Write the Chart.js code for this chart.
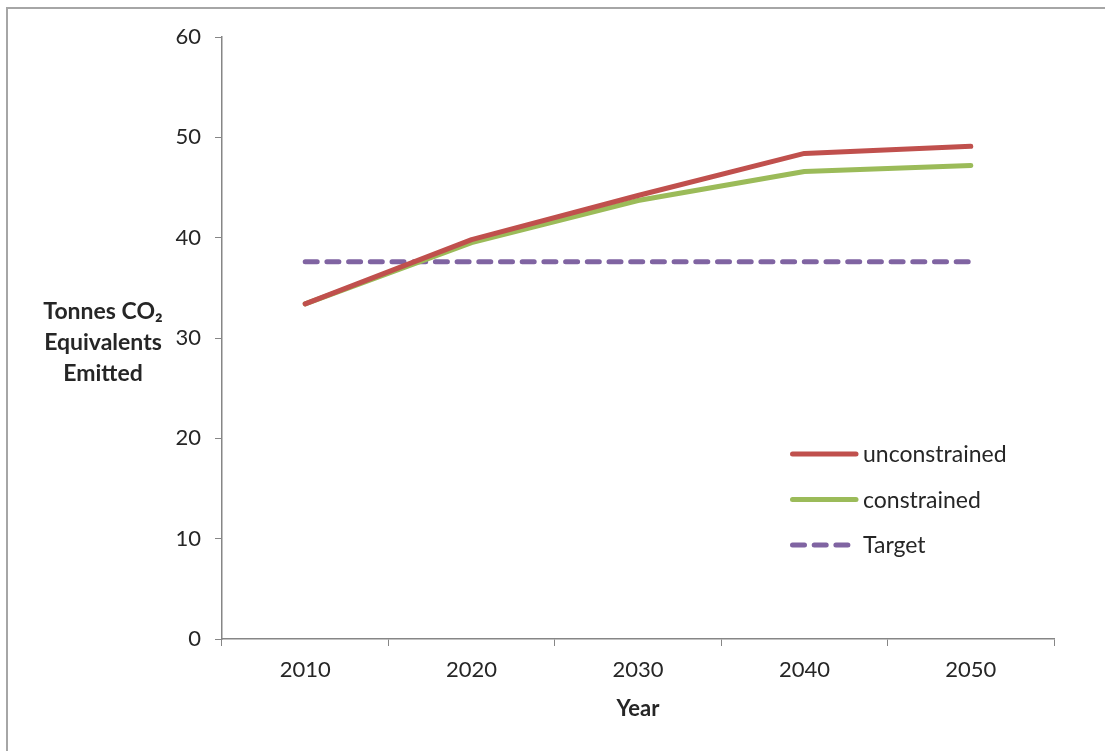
<!DOCTYPE html>
<html>
<head>
<meta charset="utf-8">
<script src="https://cdn.jsdelivr.net/npm/chart.js@4.4.0/dist/chart.umd.min.js"></script>
<style>
    body { margin: 0; background: #fff; }
    canvas { display: block; }
</style>
</head>
<body>
<canvas id="emissions" width="1105" height="751"></canvas>
<script>
const years = ['2010', '2020', '2030', '2040', '2050'];
const unconstrained = [33.4, 39.8, 44.2, 48.4, 49.1];
const constrained = [33.4, 39.5, 43.7, 46.6, 47.2];
const target = [37.6, 37.6, 37.6, 37.6, 37.6];
const yTitle = ['Tonnes CO\u2082', 'Equivalents', 'Emitted'];
const xTitle = 'Year';

const textColor = '#262626';
const axisColor = '#868686';
const fontName = 'Lato, "Open Sans", sans-serif';

// frame, axis titles and the legend drawn inside the plot
const extras = {
    id: 'extras',
    beforeDraw(chart) {
        const c = chart.ctx;
        c.save();
        c.strokeStyle = '#a6a6a6';
        c.lineWidth = 2;
        c.beginPath();
        c.moveTo(7, 751);
        c.lineTo(7, 8);
        c.lineTo(1105, 8);
        c.stroke();
        c.restore();
    },
    afterDraw(chart) {
        const c = chart.ctx;
        const area = chart.chartArea;
        c.save();
        c.fillStyle = textColor;
        c.textAlign = 'center';
        c.textBaseline = 'middle';
        c.font = 'bold 23px ' + fontName;
        yTitle.forEach((line, i) => {
            c.fillText(line, 103, 312 + i * 31);
        });
        c.font = 'bold 22px ' + fontName;
        c.fillText(xTitle, (area.left + area.right) / 2, 709);

        // legend
        c.textAlign = 'left';
        c.font = '23px ' + fontName;
        chart.data.datasets.forEach((ds, i) => {
            const y = 454 + i * 45.5;
            c.strokeStyle = ds.borderColor;
            c.lineWidth = ds.borderWidth;
            c.lineCap = 'round';
            c.setLineDash(ds.borderDash || []);
            c.beginPath();
            c.moveTo(792.5, y);
            c.lineTo(ds.borderDash ? 850 : 856, y);
            c.stroke();
            c.setLineDash([]);
            c.fillText(ds.label, 863, y + 1);
        });
        c.restore();
    }
};

new Chart(document.getElementById('emissions').getContext('2d'), {
    type: 'line',
    data: {
        labels: years,
        datasets: [
            {
                label: 'unconstrained',
                data: unconstrained,
                borderColor: '#C0504D',
                borderWidth: 5,
                borderCapStyle: 'round',
                borderJoinStyle: 'round',
                pointRadius: 0,
                tension: 0
            },
            {
                label: 'constrained',
                data: constrained,
                borderColor: '#9BBB59',
                borderWidth: 5,
                borderCapStyle: 'round',
                borderJoinStyle: 'round',
                pointRadius: 0,
                tension: 0
            },
            {
                label: 'Target',
                data: target,
                borderColor: '#8064A2',
                borderWidth: 5,
                borderDash: [12, 9.7],
                borderCapStyle: 'round',
                pointRadius: 0,
                tension: 0
            }
        ]
    },
    options: {
        responsive: false,
        animation: false,
        devicePixelRatio: 1,
        layout: {
            padding: { top: 37, right: 51, bottom: 0, left: 0 }
        },
        plugins: {
            legend: { display: false },
            tooltip: { enabled: false }
        },
        scales: {
            x: {
                offset: true,
                grid: {
                    offset: true,
                    drawOnChartArea: false,
                    tickLength: 7,
                    color: axisColor
                },
                border: { color: axisColor, width: 1.5 },
                ticks: {
                    color: textColor,
                    padding: 11,
                    maxRotation: 0,
                    font: { family: fontName, size: 22 }
                },
                afterFit(scale) { scale.height = 112; }
            },
            y: {
                min: 0,
                max: 60,
                ticks: {
                    stepSize: 10,
                    color: textColor,
                    padding: 14,
                    font: { family: fontName, size: 22 }
                },
                grid: {
                    drawOnChartArea: false,
                    tickLength: 7,
                    color: axisColor
                },
                border: { color: axisColor, width: 1.5 },
                afterFit(scale) { scale.width = 222; }
            }
        }
    },
    plugins: [extras]
});
</script>
</body>
</html>
